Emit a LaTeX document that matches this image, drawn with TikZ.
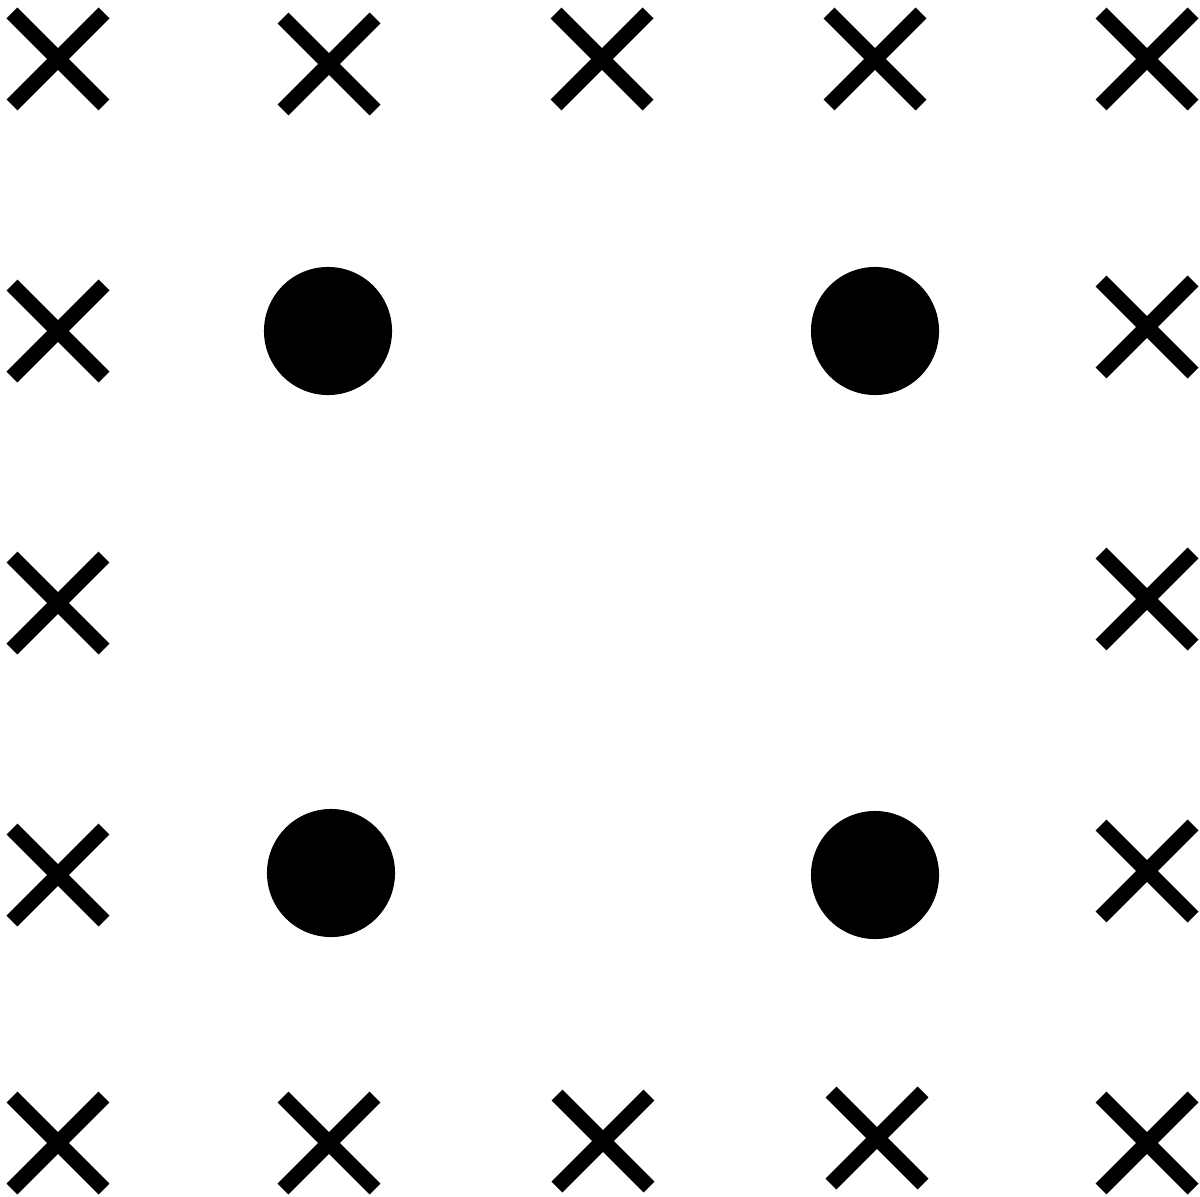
\documentclass[tikz,border=0pt]{standalone}
\begin{document}
\begin{tikzpicture}[x=0.01cm,y=-0.01cm,
  xline/.style={line width=0.155cm,line cap=butt,black},
  dot/.style={circle,fill=black,minimum size=1.28cm,inner sep=0pt},
  pics/xmark/.style={code={
    \draw[xline] (-46,-46) -- (46,46);
    \draw[xline] (-46,46) -- (46,-46);}}]
\useasboundingbox (0,0) rectangle (1200,1197);
% top row
\pic at (58,59) {xmark};
\pic at (329,64) {xmark};
\pic at (602,59) {xmark};
\pic at (875,59) {xmark};
\pic at (1147,59) {xmark};
% left column
\pic at (58,331) {xmark};
\pic at (58,603) {xmark};
\pic at (58,875) {xmark};
% right column
\pic at (1147,327) {xmark};
\pic at (1147,599) {xmark};
\pic at (1147,871) {xmark};
% bottom row
\pic at (58,1143) {xmark};
\pic at (329,1143) {xmark};
\pic at (603,1141) {xmark};
\pic at (877,1138) {xmark};
\pic at (1147,1143) {xmark};
% dots
\node[dot] (d1) at (328,331) {};
\node[dot] (d2) at (875,331) {};
\node[dot] (d3) at (331,873) {};
\node[dot] (d4) at (875,875) {};
\end{tikzpicture}
\end{document}
